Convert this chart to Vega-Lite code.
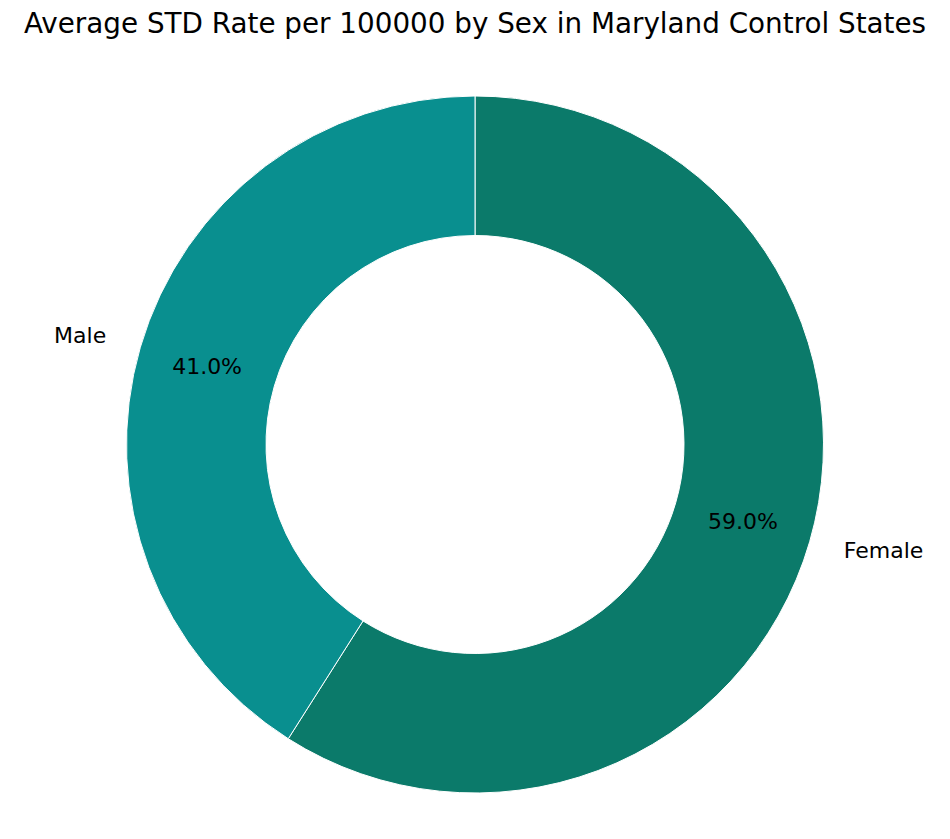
{
  "$schema": "https://vega.github.io/schema/vega-lite/v6.json",
  "width": 950,
  "height": 795,
  "padding": {"top": 11, "left": 0, "right": 0, "bottom": 0},
  "background": "white",
  "title": {
    "text": "Average STD Rate per 100000 by Sex in Maryland Control States",
    "font": "DejaVu Sans",
    "fontSize": 27.8,
    "fontWeight": "normal",
    "color": "black",
    "offset": 8,
    "anchor": "middle"
  },
  "config": {"view": {"stroke": null}},
  "data": {
    "values": [
      {"sex": "Female", "share": 0.59},
      {"sex": "Male", "share": 0.41}
    ]
  },
  "encoding": {
    "theta": {"field": "share", "type": "quantitative", "stack": true},
    "order": {"field": "sex", "type": "nominal", "sort": "ascending"}
  },
  "layer": [
    {
      "mark": {"type": "arc", "outerRadius": 348.5, "innerRadius": 209, "stroke": "white", "strokeWidth": 1},
      "encoding": {
        "color": {
          "field": "sex",
          "type": "nominal",
          "scale": {"domain": ["Female", "Male"], "range": ["#0b7a6a", "#098f8f"]},
          "legend": null
        }
      }
    },
    {
      "mark": {"type": "text", "radius": 279, "font": "DejaVu Sans", "fontSize": 22, "color": "black", "align": "center", "baseline": "middle"},
      "encoding": {
        "text": {"field": "share", "type": "quantitative", "format": ".1%"}
      }
    },
    {
      "mark": {"type": "text", "radius": 384, "font": "DejaVu Sans", "fontSize": 22, "color": "black", "align": {"expr": "datum.sex == 'Female' ? 'left' : 'right'"}, "baseline": "middle", "dy": -1},
      "encoding": {
        "text": {"field": "sex", "type": "nominal"}
      }
    }
  ]
}
